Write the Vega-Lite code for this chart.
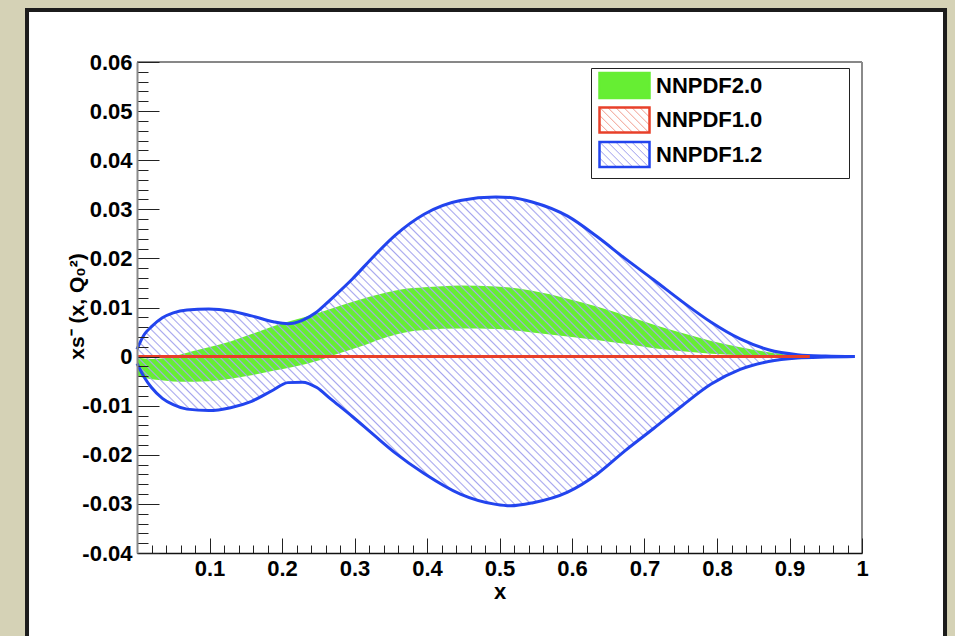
{
  "$schema": "https://vega.github.io/schema/vega-lite/v6.json",
  "width": 725,
  "height": 491,
  "autosize": "none",
  "padding": {"left": 137, "top": 62, "right": 93, "bottom": 83},
  "background": "#d5d2b6",
  "config": {
    "font": "Liberation Sans",
    "view": {"stroke": null},
    "axis": {"zindex": 1, "grid": false, "labelOverlap": false, "labelFlush": false, "labelBound": false},
    "legend": {"zindex": 2}
  },
  "datasets": {
    "pdf": [
      {"set": "NNPDF1.2", "x": 0, "lo": -0.0014, "hi": 0.0015},
      {"set": "NNPDF1.2", "x": 0.01, "lo": -0.0042, "hi": 0.0045},
      {"set": "NNPDF1.2", "x": 0.02, "lo": -0.0063, "hi": 0.0061},
      {"set": "NNPDF1.2", "x": 0.035, "lo": -0.0085, "hi": 0.0079},
      {"set": "NNPDF1.2", "x": 0.05, "lo": -0.0098, "hi": 0.0089},
      {"set": "NNPDF1.2", "x": 0.069, "lo": -0.0107, "hi": 0.0095},
      {"set": "NNPDF1.2", "x": 0.099, "lo": -0.011, "hi": 0.0097},
      {"set": "NNPDF1.2", "x": 0.129, "lo": -0.0104, "hi": 0.0093},
      {"set": "NNPDF1.2", "x": 0.158, "lo": -0.0091, "hi": 0.0083},
      {"set": "NNPDF1.2", "x": 0.188, "lo": -0.0068, "hi": 0.0071},
      {"set": "NNPDF1.2", "x": 0.208, "lo": -0.0053, "hi": 0.0067},
      {"set": "NNPDF1.2", "x": 0.228, "lo": -0.0052, "hi": 0.0074},
      {"set": "NNPDF1.2", "x": 0.248, "lo": -0.0063, "hi": 0.0091},
      {"set": "NNPDF1.2", "x": 0.267, "lo": -0.0086, "hi": 0.0116},
      {"set": "NNPDF1.2", "x": 0.297, "lo": -0.0122, "hi": 0.0158},
      {"set": "NNPDF1.2", "x": 0.327, "lo": -0.016, "hi": 0.0205},
      {"set": "NNPDF1.2", "x": 0.356, "lo": -0.0196, "hi": 0.0247},
      {"set": "NNPDF1.2", "x": 0.396, "lo": -0.0238, "hi": 0.029},
      {"set": "NNPDF1.2", "x": 0.446, "lo": -0.028, "hi": 0.0318},
      {"set": "NNPDF1.2", "x": 0.495, "lo": -0.0301, "hi": 0.0325},
      {"set": "NNPDF1.2", "x": 0.515, "lo": -0.0304, "hi": 0.0324},
      {"set": "NNPDF1.2", "x": 0.545, "lo": -0.0298, "hi": 0.0315},
      {"set": "NNPDF1.2", "x": 0.594, "lo": -0.0276, "hi": 0.0286},
      {"set": "NNPDF1.2", "x": 0.634, "lo": -0.024, "hi": 0.0245},
      {"set": "NNPDF1.2", "x": 0.673, "lo": -0.0192, "hi": 0.02},
      {"set": "NNPDF1.2", "x": 0.713, "lo": -0.0146, "hi": 0.0156},
      {"set": "NNPDF1.2", "x": 0.752, "lo": -0.01, "hi": 0.0112},
      {"set": "NNPDF1.2", "x": 0.792, "lo": -0.0056, "hi": 0.007},
      {"set": "NNPDF1.2", "x": 0.832, "lo": -0.0026, "hi": 0.0036},
      {"set": "NNPDF1.2", "x": 0.871, "lo": -0.001, "hi": 0.0014},
      {"set": "NNPDF1.2", "x": 0.911, "lo": -0.0003, "hi": 0.0004},
      {"set": "NNPDF1.2", "x": 0.95, "lo": -0.0001, "hi": 0.0001},
      {"set": "NNPDF1.2", "x": 0.99, "lo": 0, "hi": 0},
      {"set": "NNPDF2.0", "x": 0, "lo": -0.004, "hi": -0.0002},
      {"set": "NNPDF2.0", "x": 0.02, "lo": -0.0046, "hi": -0.0005},
      {"set": "NNPDF2.0", "x": 0.04, "lo": -0.0049, "hi": -0.0003},
      {"set": "NNPDF2.0", "x": 0.059, "lo": -0.0051, "hi": 0.0004},
      {"set": "NNPDF2.0", "x": 0.079, "lo": -0.0051, "hi": 0.0012},
      {"set": "NNPDF2.0", "x": 0.099, "lo": -0.005, "hi": 0.0019},
      {"set": "NNPDF2.0", "x": 0.129, "lo": -0.0045, "hi": 0.0031},
      {"set": "NNPDF2.0", "x": 0.158, "lo": -0.0038, "hi": 0.0046},
      {"set": "NNPDF2.0", "x": 0.188, "lo": -0.0029, "hi": 0.0062},
      {"set": "NNPDF2.0", "x": 0.218, "lo": -0.002, "hi": 0.0075},
      {"set": "NNPDF2.0", "x": 0.248, "lo": -0.0009, "hi": 0.0088},
      {"set": "NNPDF2.0", "x": 0.277, "lo": 0.0006, "hi": 0.0102},
      {"set": "NNPDF2.0", "x": 0.307, "lo": 0.002, "hi": 0.0116},
      {"set": "NNPDF2.0", "x": 0.337, "lo": 0.0036, "hi": 0.0128},
      {"set": "NNPDF2.0", "x": 0.366, "lo": 0.0048, "hi": 0.0137},
      {"set": "NNPDF2.0", "x": 0.396, "lo": 0.0054, "hi": 0.0141},
      {"set": "NNPDF2.0", "x": 0.446, "lo": 0.0057, "hi": 0.0145},
      {"set": "NNPDF2.0", "x": 0.495, "lo": 0.0056, "hi": 0.0143},
      {"set": "NNPDF2.0", "x": 0.545, "lo": 0.0049, "hi": 0.0134},
      {"set": "NNPDF2.0", "x": 0.594, "lo": 0.0041, "hi": 0.0118},
      {"set": "NNPDF2.0", "x": 0.634, "lo": 0.0034, "hi": 0.0102},
      {"set": "NNPDF2.0", "x": 0.673, "lo": 0.0026, "hi": 0.0084},
      {"set": "NNPDF2.0", "x": 0.713, "lo": 0.0017, "hi": 0.0065},
      {"set": "NNPDF2.0", "x": 0.752, "lo": 0.0011, "hi": 0.0048},
      {"set": "NNPDF2.0", "x": 0.792, "lo": 0.0006, "hi": 0.0032},
      {"set": "NNPDF2.0", "x": 0.832, "lo": 0.0003, "hi": 0.0019},
      {"set": "NNPDF2.0", "x": 0.871, "lo": 0.0001, "hi": 0.0009},
      {"set": "NNPDF2.0", "x": 0.911, "lo": 0, "hi": 0.0003},
      {"set": "NNPDF2.0", "x": 0.94, "lo": 0, "hi": 0},
      {"set": "NNPDF1.0", "x": 0, "lo": 0, "hi": 0},
      {"set": "NNPDF1.0", "x": 0.1, "lo": 0, "hi": 0},
      {"set": "NNPDF1.0", "x": 0.2, "lo": 0, "hi": 0},
      {"set": "NNPDF1.0", "x": 0.3, "lo": 0, "hi": 0},
      {"set": "NNPDF1.0", "x": 0.4, "lo": 0, "hi": 0},
      {"set": "NNPDF1.0", "x": 0.5, "lo": 0, "hi": 0},
      {"set": "NNPDF1.0", "x": 0.6, "lo": 0, "hi": 0},
      {"set": "NNPDF1.0", "x": 0.7, "lo": 0, "hi": 0},
      {"set": "NNPDF1.0", "x": 0.8, "lo": 0, "hi": 0},
      {"set": "NNPDF1.0", "x": 0.9, "lo": 0, "hi": 0},
      {"set": "NNPDF1.0", "x": 0.928, "lo": 0, "hi": 0}
    ]
  },
  "data": {"name": "pdf"},
  "layer": [
    {
      "data": {"values": [{}]},
      "mark": {"type": "rect", "fill": "white", "stroke": "#1c1c1c", "strokeWidth": 4, "clip": false},
      "encoding": {
        "x": {"datum": -0.1517, "type": "quantitative", "scale": {"domain": [0, 1], "nice": false, "zero": false}},
        "x2": {"datum": 1.1145},
        "y": {"datum": 0.0706, "type": "quantitative", "scale": {"domain": [-0.04, 0.06], "nice": false, "zero": false}},
        "y2": {"datum": -0.0618}
      }
    },
    {
      "transform": [{"filter": "datum.set === 'NNPDF2.0'"}],
      "mark": {"type": "area", "interpolate": "monotone", "fill": "#66ee33"},
      "encoding": {
        "x": {
          "field": "x", "type": "quantitative",
          "scale": {"domain": [0, 1], "nice": false, "zero": false},
          "axis": {
            "zindex": 1,
            "title": "x",
            "values": [0, 0.02, 0.04, 0.06, 0.08, 0.1, 0.12, 0.14, 0.16, 0.18, 0.2, 0.22, 0.24, 0.26, 0.28, 0.3, 0.32, 0.34, 0.36, 0.38, 0.4, 0.42, 0.44, 0.46, 0.48, 0.5, 0.52, 0.54, 0.56, 0.58, 0.6, 0.62, 0.64, 0.66, 0.68, 0.7, 0.72, 0.74, 0.76, 0.78, 0.8, 0.82, 0.84, 0.86, 0.88, 0.9, 0.92, 0.94, 0.96, 0.98, 1],
            "tickCount": 200,
            "tickSize": -15,
            "tickDash": {"condition": {"test": "abs(datum.value*10 - round(datum.value*10)) < 1e-6", "value": [15, 0]}, "value": [8, 40]},
            "tickColor": "#222222",
            "tickWidth": 1,
            "labelExpr": "abs(datum.value*10 - round(datum.value*10)) < 1e-6 && datum.value > 0.05 ? (datum.value > 0.99 ? '1' : format(datum.value, '.1f')) : ''",
            "labelPadding": 20,
            "labelFont": "Liberation Sans",
            "labelFontWeight": "bold",
            "labelFontSize": 22,
            "labelColor": "#000000",
            "domainColor": "#111111",
            "domainWidth": 1.5,
            "titleFont": "Liberation Sans",
            "titleFontWeight": "bold",
            "titleFontSize": 22,
            "titleColor": "#000000",
            "titleY": 45,
            "titleBaseline": "alphabetic"
          }
        },
        "y": {
          "field": "lo", "type": "quantitative",
          "scale": {"domain": [-0.04, 0.06], "nice": false, "zero": false},
          "axis": {
            "zindex": 1,
            "title": "xs⁻ (x, Q₀²)",
            "values": [-0.04, -0.038, -0.036, -0.034, -0.032, -0.03, -0.028, -0.026, -0.024, -0.022, -0.02, -0.018, -0.016, -0.014, -0.012, -0.01, -0.008, -0.006, -0.004, -0.002, 0, 0.002, 0.004, 0.006, 0.008, 0.01, 0.012, 0.014, 0.016, 0.018, 0.02, 0.022, 0.024, 0.026, 0.028, 0.03, 0.032, 0.034, 0.036, 0.038, 0.04, 0.042, 0.044, 0.046, 0.048, 0.05, 0.052, 0.054, 0.056, 0.058, 0.06],
            "tickCount": 200,
            "tickSize": -22,
            "tickDash": {"condition": {"test": "abs(datum.value*100 - round(datum.value*100)) < 1e-6", "value": [22, 0]}, "value": [11, 40]},
            "tickColor": "#222222",
            "tickWidth": 1,
            "labelExpr": "abs(datum.value*100 - round(datum.value*100)) < 1e-6 ? (abs(datum.value) < 1e-9 ? '0' : (datum.value < 0 ? '-' : '') + format(abs(datum.value), '.2f')) : ''",
            "labelPadding": 27,
            "labelFont": "Liberation Sans",
            "labelFontWeight": "bold",
            "labelFontSize": 22,
            "labelColor": "#000000",
            "domainColor": "#8a8a8a",
            "domainWidth": 2,
            "titleFont": "Liberation Sans",
            "titleFontWeight": "bold",
            "titleFontSize": 21,
            "titleColor": "#000000",
            "titleAngle": -90,
            "titleAlign": "center",
            "titleBaseline": "alphabetic",
            "titleX": -54,
            "titleY": 244
          }
        },
        "y2": {"field": "hi"}
      }
    },
    {
      "transform": [{"filter": "datum.set === 'NNPDF1.2'"}],
      "mark": {
        "type": "area",
        "interpolate": "monotone",
        "fill": {
          "gradient": "linear", "x1": 0, "y1": 1, "x2": 1.207, "y2": 0.481,
          "stops": [
            {"offset": 0, "color": "rgba(166,166,238,0)"}, {"offset": 0.0015, "color": "#a6a6ee"}, {"offset": 0.003, "color": "rgba(166,166,238,0)"},
            {"offset": 0.008, "color": "rgba(166,166,238,0)"}, {"offset": 0.0095, "color": "#a6a6ee"}, {"offset": 0.011, "color": "rgba(166,166,238,0)"},
            {"offset": 0.016, "color": "rgba(166,166,238,0)"}, {"offset": 0.0175, "color": "#a6a6ee"}, {"offset": 0.019, "color": "rgba(166,166,238,0)"},
            {"offset": 0.024, "color": "rgba(166,166,238,0)"}, {"offset": 0.0255, "color": "#a6a6ee"}, {"offset": 0.027, "color": "rgba(166,166,238,0)"},
            {"offset": 0.032, "color": "rgba(166,166,238,0)"}, {"offset": 0.0335, "color": "#a6a6ee"}, {"offset": 0.035, "color": "rgba(166,166,238,0)"},
            {"offset": 0.04, "color": "rgba(166,166,238,0)"}, {"offset": 0.0415, "color": "#a6a6ee"}, {"offset": 0.043, "color": "rgba(166,166,238,0)"},
            {"offset": 0.048, "color": "rgba(166,166,238,0)"}, {"offset": 0.0495, "color": "#a6a6ee"}, {"offset": 0.051, "color": "rgba(166,166,238,0)"},
            {"offset": 0.056, "color": "rgba(166,166,238,0)"}, {"offset": 0.0575, "color": "#a6a6ee"}, {"offset": 0.059, "color": "rgba(166,166,238,0)"},
            {"offset": 0.064, "color": "rgba(166,166,238,0)"}, {"offset": 0.0655, "color": "#a6a6ee"}, {"offset": 0.067, "color": "rgba(166,166,238,0)"},
            {"offset": 0.072, "color": "rgba(166,166,238,0)"}, {"offset": 0.0735, "color": "#a6a6ee"}, {"offset": 0.075, "color": "rgba(166,166,238,0)"},
            {"offset": 0.08, "color": "rgba(166,166,238,0)"}, {"offset": 0.0815, "color": "#a6a6ee"}, {"offset": 0.083, "color": "rgba(166,166,238,0)"},
            {"offset": 0.088, "color": "rgba(166,166,238,0)"}, {"offset": 0.0895, "color": "#a6a6ee"}, {"offset": 0.091, "color": "rgba(166,166,238,0)"},
            {"offset": 0.096, "color": "rgba(166,166,238,0)"}, {"offset": 0.0975, "color": "#a6a6ee"}, {"offset": 0.099, "color": "rgba(166,166,238,0)"},
            {"offset": 0.104, "color": "rgba(166,166,238,0)"}, {"offset": 0.1055, "color": "#a6a6ee"}, {"offset": 0.107, "color": "rgba(166,166,238,0)"},
            {"offset": 0.112, "color": "rgba(166,166,238,0)"}, {"offset": 0.1135, "color": "#a6a6ee"}, {"offset": 0.115, "color": "rgba(166,166,238,0)"},
            {"offset": 0.12, "color": "rgba(166,166,238,0)"}, {"offset": 0.1215, "color": "#a6a6ee"}, {"offset": 0.123, "color": "rgba(166,166,238,0)"},
            {"offset": 0.128, "color": "rgba(166,166,238,0)"}, {"offset": 0.1295, "color": "#a6a6ee"}, {"offset": 0.131, "color": "rgba(166,166,238,0)"},
            {"offset": 0.136, "color": "rgba(166,166,238,0)"}, {"offset": 0.1375, "color": "#a6a6ee"}, {"offset": 0.139, "color": "rgba(166,166,238,0)"},
            {"offset": 0.144, "color": "rgba(166,166,238,0)"}, {"offset": 0.1455, "color": "#a6a6ee"}, {"offset": 0.147, "color": "rgba(166,166,238,0)"},
            {"offset": 0.152, "color": "rgba(166,166,238,0)"}, {"offset": 0.1535, "color": "#a6a6ee"}, {"offset": 0.155, "color": "rgba(166,166,238,0)"},
            {"offset": 0.16, "color": "rgba(166,166,238,0)"}, {"offset": 0.1615, "color": "#a6a6ee"}, {"offset": 0.163, "color": "rgba(166,166,238,0)"},
            {"offset": 0.168, "color": "rgba(166,166,238,0)"}, {"offset": 0.1695, "color": "#a6a6ee"}, {"offset": 0.171, "color": "rgba(166,166,238,0)"},
            {"offset": 0.176, "color": "rgba(166,166,238,0)"}, {"offset": 0.1775, "color": "#a6a6ee"}, {"offset": 0.179, "color": "rgba(166,166,238,0)"},
            {"offset": 0.184, "color": "rgba(166,166,238,0)"}, {"offset": 0.1855, "color": "#a6a6ee"}, {"offset": 0.187, "color": "rgba(166,166,238,0)"},
            {"offset": 0.192, "color": "rgba(166,166,238,0)"}, {"offset": 0.1935, "color": "#a6a6ee"}, {"offset": 0.195, "color": "rgba(166,166,238,0)"},
            {"offset": 0.2, "color": "rgba(166,166,238,0)"}, {"offset": 0.2015, "color": "#a6a6ee"}, {"offset": 0.203, "color": "rgba(166,166,238,0)"},
            {"offset": 0.208, "color": "rgba(166,166,238,0)"}, {"offset": 0.2095, "color": "#a6a6ee"}, {"offset": 0.211, "color": "rgba(166,166,238,0)"},
            {"offset": 0.216, "color": "rgba(166,166,238,0)"}, {"offset": 0.2175, "color": "#a6a6ee"}, {"offset": 0.219, "color": "rgba(166,166,238,0)"},
            {"offset": 0.224, "color": "rgba(166,166,238,0)"}, {"offset": 0.2255, "color": "#a6a6ee"}, {"offset": 0.227, "color": "rgba(166,166,238,0)"},
            {"offset": 0.232, "color": "rgba(166,166,238,0)"}, {"offset": 0.2335, "color": "#a6a6ee"}, {"offset": 0.235, "color": "rgba(166,166,238,0)"},
            {"offset": 0.24, "color": "rgba(166,166,238,0)"}, {"offset": 0.2415, "color": "#a6a6ee"}, {"offset": 0.243, "color": "rgba(166,166,238,0)"},
            {"offset": 0.248, "color": "rgba(166,166,238,0)"}, {"offset": 0.2495, "color": "#a6a6ee"}, {"offset": 0.251, "color": "rgba(166,166,238,0)"},
            {"offset": 0.256, "color": "rgba(166,166,238,0)"}, {"offset": 0.2575, "color": "#a6a6ee"}, {"offset": 0.259, "color": "rgba(166,166,238,0)"},
            {"offset": 0.264, "color": "rgba(166,166,238,0)"}, {"offset": 0.2655, "color": "#a6a6ee"}, {"offset": 0.267, "color": "rgba(166,166,238,0)"},
            {"offset": 0.272, "color": "rgba(166,166,238,0)"}, {"offset": 0.2735, "color": "#a6a6ee"}, {"offset": 0.275, "color": "rgba(166,166,238,0)"},
            {"offset": 0.28, "color": "rgba(166,166,238,0)"}, {"offset": 0.2815, "color": "#a6a6ee"}, {"offset": 0.283, "color": "rgba(166,166,238,0)"},
            {"offset": 0.288, "color": "rgba(166,166,238,0)"}, {"offset": 0.2895, "color": "#a6a6ee"}, {"offset": 0.291, "color": "rgba(166,166,238,0)"},
            {"offset": 0.296, "color": "rgba(166,166,238,0)"}, {"offset": 0.2975, "color": "#a6a6ee"}, {"offset": 0.299, "color": "rgba(166,166,238,0)"},
            {"offset": 0.304, "color": "rgba(166,166,238,0)"}, {"offset": 0.3055, "color": "#a6a6ee"}, {"offset": 0.307, "color": "rgba(166,166,238,0)"},
            {"offset": 0.312, "color": "rgba(166,166,238,0)"}, {"offset": 0.3135, "color": "#a6a6ee"}, {"offset": 0.315, "color": "rgba(166,166,238,0)"},
            {"offset": 0.32, "color": "rgba(166,166,238,0)"}, {"offset": 0.3215, "color": "#a6a6ee"}, {"offset": 0.323, "color": "rgba(166,166,238,0)"},
            {"offset": 0.328, "color": "rgba(166,166,238,0)"}, {"offset": 0.3295, "color": "#a6a6ee"}, {"offset": 0.331, "color": "rgba(166,166,238,0)"},
            {"offset": 0.336, "color": "rgba(166,166,238,0)"}, {"offset": 0.3375, "color": "#a6a6ee"}, {"offset": 0.339, "color": "rgba(166,166,238,0)"},
            {"offset": 0.344, "color": "rgba(166,166,238,0)"}, {"offset": 0.3455, "color": "#a6a6ee"}, {"offset": 0.347, "color": "rgba(166,166,238,0)"},
            {"offset": 0.352, "color": "rgba(166,166,238,0)"}, {"offset": 0.3535, "color": "#a6a6ee"}, {"offset": 0.355, "color": "rgba(166,166,238,0)"},
            {"offset": 0.36, "color": "rgba(166,166,238,0)"}, {"offset": 0.3615, "color": "#a6a6ee"}, {"offset": 0.363, "color": "rgba(166,166,238,0)"},
            {"offset": 0.368, "color": "rgba(166,166,238,0)"}, {"offset": 0.3695, "color": "#a6a6ee"}, {"offset": 0.371, "color": "rgba(166,166,238,0)"},
            {"offset": 0.376, "color": "rgba(166,166,238,0)"}, {"offset": 0.3775, "color": "#a6a6ee"}, {"offset": 0.379, "color": "rgba(166,166,238,0)"},
            {"offset": 0.384, "color": "rgba(166,166,238,0)"}, {"offset": 0.3855, "color": "#a6a6ee"}, {"offset": 0.387, "color": "rgba(166,166,238,0)"},
            {"offset": 0.392, "color": "rgba(166,166,238,0)"}, {"offset": 0.3935, "color": "#a6a6ee"}, {"offset": 0.395, "color": "rgba(166,166,238,0)"},
            {"offset": 0.4, "color": "rgba(166,166,238,0)"}, {"offset": 0.4015, "color": "#a6a6ee"}, {"offset": 0.403, "color": "rgba(166,166,238,0)"},
            {"offset": 0.408, "color": "rgba(166,166,238,0)"}, {"offset": 0.4095, "color": "#a6a6ee"}, {"offset": 0.411, "color": "rgba(166,166,238,0)"},
            {"offset": 0.416, "color": "rgba(166,166,238,0)"}, {"offset": 0.4175, "color": "#a6a6ee"}, {"offset": 0.419, "color": "rgba(166,166,238,0)"},
            {"offset": 0.424, "color": "rgba(166,166,238,0)"}, {"offset": 0.4255, "color": "#a6a6ee"}, {"offset": 0.427, "color": "rgba(166,166,238,0)"},
            {"offset": 0.432, "color": "rgba(166,166,238,0)"}, {"offset": 0.4335, "color": "#a6a6ee"}, {"offset": 0.435, "color": "rgba(166,166,238,0)"},
            {"offset": 0.44, "color": "rgba(166,166,238,0)"}, {"offset": 0.4415, "color": "#a6a6ee"}, {"offset": 0.443, "color": "rgba(166,166,238,0)"},
            {"offset": 0.448, "color": "rgba(166,166,238,0)"}, {"offset": 0.4495, "color": "#a6a6ee"}, {"offset": 0.451, "color": "rgba(166,166,238,0)"},
            {"offset": 0.456, "color": "rgba(166,166,238,0)"}, {"offset": 0.4575, "color": "#a6a6ee"}, {"offset": 0.459, "color": "rgba(166,166,238,0)"},
            {"offset": 0.464, "color": "rgba(166,166,238,0)"}, {"offset": 0.4655, "color": "#a6a6ee"}, {"offset": 0.467, "color": "rgba(166,166,238,0)"},
            {"offset": 0.472, "color": "rgba(166,166,238,0)"}, {"offset": 0.4735, "color": "#a6a6ee"}, {"offset": 0.475, "color": "rgba(166,166,238,0)"},
            {"offset": 0.48, "color": "rgba(166,166,238,0)"}, {"offset": 0.4815, "color": "#a6a6ee"}, {"offset": 0.483, "color": "rgba(166,166,238,0)"},
            {"offset": 0.488, "color": "rgba(166,166,238,0)"}, {"offset": 0.4895, "color": "#a6a6ee"}, {"offset": 0.491, "color": "rgba(166,166,238,0)"},
            {"offset": 0.496, "color": "rgba(166,166,238,0)"}, {"offset": 0.4975, "color": "#a6a6ee"}, {"offset": 0.499, "color": "rgba(166,166,238,0)"},
            {"offset": 0.504, "color": "rgba(166,166,238,0)"}, {"offset": 0.5055, "color": "#a6a6ee"}, {"offset": 0.507, "color": "rgba(166,166,238,0)"},
            {"offset": 0.512, "color": "rgba(166,166,238,0)"}, {"offset": 0.5135, "color": "#a6a6ee"}, {"offset": 0.515, "color": "rgba(166,166,238,0)"},
            {"offset": 0.52, "color": "rgba(166,166,238,0)"}, {"offset": 0.5215, "color": "#a6a6ee"}, {"offset": 0.523, "color": "rgba(166,166,238,0)"},
            {"offset": 0.528, "color": "rgba(166,166,238,0)"}, {"offset": 0.5295, "color": "#a6a6ee"}, {"offset": 0.531, "color": "rgba(166,166,238,0)"},
            {"offset": 0.536, "color": "rgba(166,166,238,0)"}, {"offset": 0.5375, "color": "#a6a6ee"}, {"offset": 0.539, "color": "rgba(166,166,238,0)"},
            {"offset": 0.544, "color": "rgba(166,166,238,0)"}, {"offset": 0.5455, "color": "#a6a6ee"}, {"offset": 0.547, "color": "rgba(166,166,238,0)"},
            {"offset": 0.552, "color": "rgba(166,166,238,0)"}, {"offset": 0.5535, "color": "#a6a6ee"}, {"offset": 0.555, "color": "rgba(166,166,238,0)"},
            {"offset": 0.56, "color": "rgba(166,166,238,0)"}, {"offset": 0.5615, "color": "#a6a6ee"}, {"offset": 0.563, "color": "rgba(166,166,238,0)"},
            {"offset": 0.568, "color": "rgba(166,166,238,0)"}, {"offset": 0.5695, "color": "#a6a6ee"}, {"offset": 0.571, "color": "rgba(166,166,238,0)"},
            {"offset": 0.576, "color": "rgba(166,166,238,0)"}, {"offset": 0.5775, "color": "#a6a6ee"}, {"offset": 0.579, "color": "rgba(166,166,238,0)"},
            {"offset": 0.584, "color": "rgba(166,166,238,0)"}, {"offset": 0.5855, "color": "#a6a6ee"}, {"offset": 0.587, "color": "rgba(166,166,238,0)"},
            {"offset": 0.592, "color": "rgba(166,166,238,0)"}, {"offset": 0.5935, "color": "#a6a6ee"}, {"offset": 0.595, "color": "rgba(166,166,238,0)"},
            {"offset": 0.6, "color": "rgba(166,166,238,0)"}, {"offset": 0.6015, "color": "#a6a6ee"}, {"offset": 0.603, "color": "rgba(166,166,238,0)"},
            {"offset": 0.608, "color": "rgba(166,166,238,0)"}, {"offset": 0.6095, "color": "#a6a6ee"}, {"offset": 0.611, "color": "rgba(166,166,238,0)"},
            {"offset": 0.616, "color": "rgba(166,166,238,0)"}, {"offset": 0.6175, "color": "#a6a6ee"}, {"offset": 0.619, "color": "rgba(166,166,238,0)"},
            {"offset": 0.624, "color": "rgba(166,166,238,0)"}, {"offset": 0.6255, "color": "#a6a6ee"}, {"offset": 0.627, "color": "rgba(166,166,238,0)"},
            {"offset": 0.632, "color": "rgba(166,166,238,0)"}, {"offset": 0.6335, "color": "#a6a6ee"}, {"offset": 0.635, "color": "rgba(166,166,238,0)"},
            {"offset": 0.64, "color": "rgba(166,166,238,0)"}, {"offset": 0.6415, "color": "#a6a6ee"}, {"offset": 0.643, "color": "rgba(166,166,238,0)"},
            {"offset": 0.648, "color": "rgba(166,166,238,0)"}, {"offset": 0.6495, "color": "#a6a6ee"}, {"offset": 0.651, "color": "rgba(166,166,238,0)"},
            {"offset": 0.656, "color": "rgba(166,166,238,0)"}, {"offset": 0.6575, "color": "#a6a6ee"}, {"offset": 0.659, "color": "rgba(166,166,238,0)"},
            {"offset": 0.664, "color": "rgba(166,166,238,0)"}, {"offset": 0.6655, "color": "#a6a6ee"}, {"offset": 0.667, "color": "rgba(166,166,238,0)"},
            {"offset": 0.672, "color": "rgba(166,166,238,0)"}, {"offset": 0.6735, "color": "#a6a6ee"}, {"offset": 0.675, "color": "rgba(166,166,238,0)"},
            {"offset": 0.68, "color": "rgba(166,166,238,0)"}, {"offset": 0.6815, "color": "#a6a6ee"}, {"offset": 0.683, "color": "rgba(166,166,238,0)"},
            {"offset": 0.688, "color": "rgba(166,166,238,0)"}, {"offset": 0.6895, "color": "#a6a6ee"}, {"offset": 0.691, "color": "rgba(166,166,238,0)"},
            {"offset": 0.696, "color": "rgba(166,166,238,0)"}, {"offset": 0.6975, "color": "#a6a6ee"}, {"offset": 0.699, "color": "rgba(166,166,238,0)"},
            {"offset": 0.704, "color": "rgba(166,166,238,0)"}, {"offset": 0.7055, "color": "#a6a6ee"}, {"offset": 0.707, "color": "rgba(166,166,238,0)"},
            {"offset": 0.712, "color": "rgba(166,166,238,0)"}, {"offset": 0.7135, "color": "#a6a6ee"}, {"offset": 0.715, "color": "rgba(166,166,238,0)"},
            {"offset": 0.72, "color": "rgba(166,166,238,0)"}, {"offset": 0.7215, "color": "#a6a6ee"}, {"offset": 0.723, "color": "rgba(166,166,238,0)"},
            {"offset": 0.728, "color": "rgba(166,166,238,0)"}, {"offset": 0.7295, "color": "#a6a6ee"}, {"offset": 0.731, "color": "rgba(166,166,238,0)"},
            {"offset": 0.736, "color": "rgba(166,166,238,0)"}, {"offset": 0.7375, "color": "#a6a6ee"}, {"offset": 0.739, "color": "rgba(166,166,238,0)"},
            {"offset": 0.744, "color": "rgba(166,166,238,0)"}, {"offset": 0.7455, "color": "#a6a6ee"}, {"offset": 0.747, "color": "rgba(166,166,238,0)"},
            {"offset": 0.752, "color": "rgba(166,166,238,0)"}, {"offset": 0.7535, "color": "#a6a6ee"}, {"offset": 0.755, "color": "rgba(166,166,238,0)"},
            {"offset": 0.76, "color": "rgba(166,166,238,0)"}, {"offset": 0.7615, "color": "#a6a6ee"}, {"offset": 0.763, "color": "rgba(166,166,238,0)"},
            {"offset": 0.768, "color": "rgba(166,166,238,0)"}, {"offset": 0.7695, "color": "#a6a6ee"}, {"offset": 0.771, "color": "rgba(166,166,238,0)"},
            {"offset": 0.776, "color": "rgba(166,166,238,0)"}, {"offset": 0.7775, "color": "#a6a6ee"}, {"offset": 0.779, "color": "rgba(166,166,238,0)"},
            {"offset": 0.784, "color": "rgba(166,166,238,0)"}, {"offset": 0.7855, "color": "#a6a6ee"}, {"offset": 0.787, "color": "rgba(166,166,238,0)"},
            {"offset": 0.792, "color": "rgba(166,166,238,0)"}, {"offset": 0.7935, "color": "#a6a6ee"}, {"offset": 0.795, "color": "rgba(166,166,238,0)"},
            {"offset": 0.8, "color": "rgba(166,166,238,0)"}, {"offset": 0.8015, "color": "#a6a6ee"}, {"offset": 0.803, "color": "rgba(166,166,238,0)"},
            {"offset": 0.808, "color": "rgba(166,166,238,0)"}, {"offset": 0.8095, "color": "#a6a6ee"}, {"offset": 0.811, "color": "rgba(166,166,238,0)"},
            {"offset": 0.816, "color": "rgba(166,166,238,0)"}, {"offset": 0.8175, "color": "#a6a6ee"}, {"offset": 0.819, "color": "rgba(166,166,238,0)"},
            {"offset": 0.824, "color": "rgba(166,166,238,0)"}, {"offset": 0.8255, "color": "#a6a6ee"}, {"offset": 0.827, "color": "rgba(166,166,238,0)"},
            {"offset": 0.832, "color": "rgba(166,166,238,0)"}, {"offset": 0.8335, "color": "#a6a6ee"}, {"offset": 0.835, "color": "rgba(166,166,238,0)"},
            {"offset": 0.84, "color": "rgba(166,166,238,0)"}, {"offset": 0.8415, "color": "#a6a6ee"}, {"offset": 0.843, "color": "rgba(166,166,238,0)"},
            {"offset": 0.848, "color": "rgba(166,166,238,0)"}, {"offset": 0.8495, "color": "#a6a6ee"}, {"offset": 0.851, "color": "rgba(166,166,238,0)"},
            {"offset": 0.856, "color": "rgba(166,166,238,0)"}, {"offset": 0.8575, "color": "#a6a6ee"}, {"offset": 0.859, "color": "rgba(166,166,238,0)"},
            {"offset": 0.864, "color": "rgba(166,166,238,0)"}, {"offset": 0.8655, "color": "#a6a6ee"}, {"offset": 0.867, "color": "rgba(166,166,238,0)"},
            {"offset": 0.872, "color": "rgba(166,166,238,0)"}, {"offset": 0.8735, "color": "#a6a6ee"}, {"offset": 0.875, "color": "rgba(166,166,238,0)"},
            {"offset": 0.88, "color": "rgba(166,166,238,0)"}, {"offset": 0.8815, "color": "#a6a6ee"}, {"offset": 0.883, "color": "rgba(166,166,238,0)"},
            {"offset": 0.888, "color": "rgba(166,166,238,0)"}, {"offset": 0.8895, "color": "#a6a6ee"}, {"offset": 0.891, "color": "rgba(166,166,238,0)"},
            {"offset": 0.896, "color": "rgba(166,166,238,0)"}, {"offset": 0.8975, "color": "#a6a6ee"}, {"offset": 0.899, "color": "rgba(166,166,238,0)"},
            {"offset": 0.904, "color": "rgba(166,166,238,0)"}, {"offset": 0.9055, "color": "#a6a6ee"}, {"offset": 0.907, "color": "rgba(166,166,238,0)"},
            {"offset": 0.912, "color": "rgba(166,166,238,0)"}, {"offset": 0.9135, "color": "#a6a6ee"}, {"offset": 0.915, "color": "rgba(166,166,238,0)"},
            {"offset": 0.92, "color": "rgba(166,166,238,0)"}, {"offset": 0.9215, "color": "#a6a6ee"}, {"offset": 0.923, "color": "rgba(166,166,238,0)"},
            {"offset": 0.928, "color": "rgba(166,166,238,0)"}, {"offset": 0.9295, "color": "#a6a6ee"}, {"offset": 0.931, "color": "rgba(166,166,238,0)"},
            {"offset": 0.936, "color": "rgba(166,166,238,0)"}, {"offset": 0.9375, "color": "#a6a6ee"}, {"offset": 0.939, "color": "rgba(166,166,238,0)"},
            {"offset": 0.944, "color": "rgba(166,166,238,0)"}, {"offset": 0.9455, "color": "#a6a6ee"}, {"offset": 0.947, "color": "rgba(166,166,238,0)"},
            {"offset": 0.952, "color": "rgba(166,166,238,0)"}, {"offset": 0.9535, "color": "#a6a6ee"}, {"offset": 0.955, "color": "rgba(166,166,238,0)"},
            {"offset": 0.96, "color": "rgba(166,166,238,0)"}, {"offset": 0.9615, "color": "#a6a6ee"}, {"offset": 0.963, "color": "rgba(166,166,238,0)"},
            {"offset": 0.968, "color": "rgba(166,166,238,0)"}, {"offset": 0.9695, "color": "#a6a6ee"}, {"offset": 0.971, "color": "rgba(166,166,238,0)"},
            {"offset": 0.976, "color": "rgba(166,166,238,0)"}, {"offset": 0.9775, "color": "#a6a6ee"}, {"offset": 0.979, "color": "rgba(166,166,238,0)"},
            {"offset": 0.984, "color": "rgba(166,166,238,0)"}, {"offset": 0.9855, "color": "#a6a6ee"}, {"offset": 0.987, "color": "rgba(166,166,238,0)"},
            {"offset": 0.992, "color": "rgba(166,166,238,0)"}, {"offset": 0.9935, "color": "#a6a6ee"}, {"offset": 0.995, "color": "rgba(166,166,238,0)"}
          ]
        }
      },
      "encoding": {
        "x": {"field": "x", "type": "quantitative", "scale": {"domain": [0, 1], "nice": false, "zero": false}},
        "y": {"field": "lo", "type": "quantitative", "scale": {"domain": [-0.04, 0.06], "nice": false, "zero": false}},
        "y2": {"field": "hi"}
      }
    },
    {
      "transform": [{"filter": "datum.set === 'NNPDF1.2'"}],
      "mark": {"type": "line", "interpolate": "monotone", "strokeWidth": 3},
      "encoding": {
        "x": {"field": "x", "type": "quantitative", "scale": {"domain": [0, 1], "nice": false, "zero": false}},
        "y": {"field": "hi", "type": "quantitative", "scale": {"domain": [-0.04, 0.06], "nice": false, "zero": false}},
        "stroke": {
          "field": "set", "type": "nominal",
          "scale": {"domain": ["NNPDF2.0", "NNPDF1.0", "NNPDF1.2"], "range": ["#66ee33", "#e8402a", "#2244ee"]},
          "legend": {
            "title": null,
            "orient": "none",
            "legendX": 454,
            "legendY": 6,
            "padding": 6,
            "strokeColor": "#222222",
            "fillColor": "#ffffff",
            "symbolType": "M-2.5,-1.25H2.5V1.25H-2.5Z",
            "symbolSize": 400,
            "symbolOffset": 16,
            "symbolStrokeWidth": 2.5,
            "symbolOpacity": 1,
            "labelFont": "Liberation Sans",
            "labelFontWeight": "bold",
            "labelFontSize": 22,
            "labelColor": "#000000",
            "labelOffset": 20,
            "labelLimit": 400,
            "rowPadding": -0.5,
            "labelExpr": "datum.label + '\u2800\u2800\u2800\u2800\u2800'",
            "encode": {
              "symbols": {
                "update": {
                  "fill": [
                    {"test": "datum.value === 'NNPDF2.0'", "value": "#66ee33"},
                    {"test": "datum.value === 'NNPDF1.0'", "value": {
                      "gradient": "linear", "x1": 0, "y1": 1, "x2": 1.2, "y2": 0.4,
                      "stops": [
                        {"offset": 0, "color": "#ffffff"}, {"offset": 0.015, "color": "#f2a598"}, {"offset": 0.03, "color": "#ffffff"},
                        {"offset": 0.107, "color": "#ffffff"}, {"offset": 0.122, "color": "#f2a598"}, {"offset": 0.137, "color": "#ffffff"},
                        {"offset": 0.214, "color": "#ffffff"}, {"offset": 0.229, "color": "#f2a598"}, {"offset": 0.244, "color": "#ffffff"},
                        {"offset": 0.321, "color": "#ffffff"}, {"offset": 0.336, "color": "#f2a598"}, {"offset": 0.351, "color": "#ffffff"},
                        {"offset": 0.428, "color": "#ffffff"}, {"offset": 0.443, "color": "#f2a598"}, {"offset": 0.458, "color": "#ffffff"},
                        {"offset": 0.535, "color": "#ffffff"}, {"offset": 0.55, "color": "#f2a598"}, {"offset": 0.565, "color": "#ffffff"},
                        {"offset": 0.642, "color": "#ffffff"}, {"offset": 0.657, "color": "#f2a598"}, {"offset": 0.672, "color": "#ffffff"},
                        {"offset": 0.749, "color": "#ffffff"}, {"offset": 0.764, "color": "#f2a598"}, {"offset": 0.779, "color": "#ffffff"},
                        {"offset": 0.856, "color": "#ffffff"}, {"offset": 0.871, "color": "#f2a598"}, {"offset": 0.886, "color": "#ffffff"},
                        {"offset": 0.963, "color": "#ffffff"}, {"offset": 0.978, "color": "#f2a598"}, {"offset": 0.993, "color": "#ffffff"}
                      ]
                    }},
                    {"value": {
                      "gradient": "linear", "x1": 0, "y1": 1, "x2": 1.2, "y2": 0.4,
                      "stops": [
                        {"offset": 0, "color": "#ffffff"}, {"offset": 0.015, "color": "#a6a6ee"}, {"offset": 0.03, "color": "#ffffff"},
                        {"offset": 0.107, "color": "#ffffff"}, {"offset": 0.122, "color": "#a6a6ee"}, {"offset": 0.137, "color": "#ffffff"},
                        {"offset": 0.214, "color": "#ffffff"}, {"offset": 0.229, "color": "#a6a6ee"}, {"offset": 0.244, "color": "#ffffff"},
                        {"offset": 0.321, "color": "#ffffff"}, {"offset": 0.336, "color": "#a6a6ee"}, {"offset": 0.351, "color": "#ffffff"},
                        {"offset": 0.428, "color": "#ffffff"}, {"offset": 0.443, "color": "#a6a6ee"}, {"offset": 0.458, "color": "#ffffff"},
                        {"offset": 0.535, "color": "#ffffff"}, {"offset": 0.55, "color": "#a6a6ee"}, {"offset": 0.565, "color": "#ffffff"},
                        {"offset": 0.642, "color": "#ffffff"}, {"offset": 0.657, "color": "#a6a6ee"}, {"offset": 0.672, "color": "#ffffff"},
                        {"offset": 0.749, "color": "#ffffff"}, {"offset": 0.764, "color": "#a6a6ee"}, {"offset": 0.779, "color": "#ffffff"},
                        {"offset": 0.856, "color": "#ffffff"}, {"offset": 0.871, "color": "#a6a6ee"}, {"offset": 0.886, "color": "#ffffff"},
                        {"offset": 0.963, "color": "#ffffff"}, {"offset": 0.978, "color": "#a6a6ee"}, {"offset": 0.993, "color": "#ffffff"}
                      ]
                    }}
                  ]
                }
              }
            }
          }
        }
      }
    },
    {
      "transform": [{"filter": "datum.set === 'NNPDF1.2'"}],
      "mark": {"type": "line", "interpolate": "monotone", "strokeWidth": 3},
      "encoding": {
        "x": {"field": "x", "type": "quantitative", "scale": {"domain": [0, 1], "nice": false, "zero": false}},
        "y": {"field": "lo", "type": "quantitative", "scale": {"domain": [-0.04, 0.06], "nice": false, "zero": false}},
        "stroke": {"field": "set", "type": "nominal", "scale": {"domain": ["NNPDF2.0", "NNPDF1.0", "NNPDF1.2"], "range": ["#66ee33", "#e8402a", "#2244ee"]}}
      }
    },
    {
      "transform": [{"filter": "datum.set === 'NNPDF1.0'"}],
      "mark": {"type": "line", "strokeWidth": 3},
      "encoding": {
        "x": {"field": "x", "type": "quantitative", "scale": {"domain": [0, 1], "nice": false, "zero": false}},
        "y": {"field": "lo", "type": "quantitative", "scale": {"domain": [-0.04, 0.06], "nice": false, "zero": false}},
        "stroke": {"field": "set", "type": "nominal", "scale": {"domain": ["NNPDF2.0", "NNPDF1.0", "NNPDF1.2"], "range": ["#66ee33", "#e8402a", "#2244ee"]}}
      }
    },
    {
      "data": {"values": [{}]},
      "mark": {"type": "rule", "color": "#111111", "strokeWidth": 1},
      "encoding": {
        "x": {"datum": 0, "type": "quantitative", "scale": {"domain": [0, 1], "nice": false, "zero": false}},
        "x2": {"datum": 1},
        "y": {"datum": 0.06, "type": "quantitative", "scale": {"domain": [-0.04, 0.06], "nice": false, "zero": false}}
      }
    },
    {
      "data": {"values": [{}]},
      "mark": {"type": "rule", "color": "#8a8a8a", "strokeWidth": 2},
      "encoding": {
        "x": {"datum": 1, "type": "quantitative", "scale": {"domain": [0, 1], "nice": false, "zero": false}},
        "y": {"datum": -0.04, "type": "quantitative", "scale": {"domain": [-0.04, 0.06], "nice": false, "zero": false}},
        "y2": {"datum": 0.06}
      }
    }
  ]
}
